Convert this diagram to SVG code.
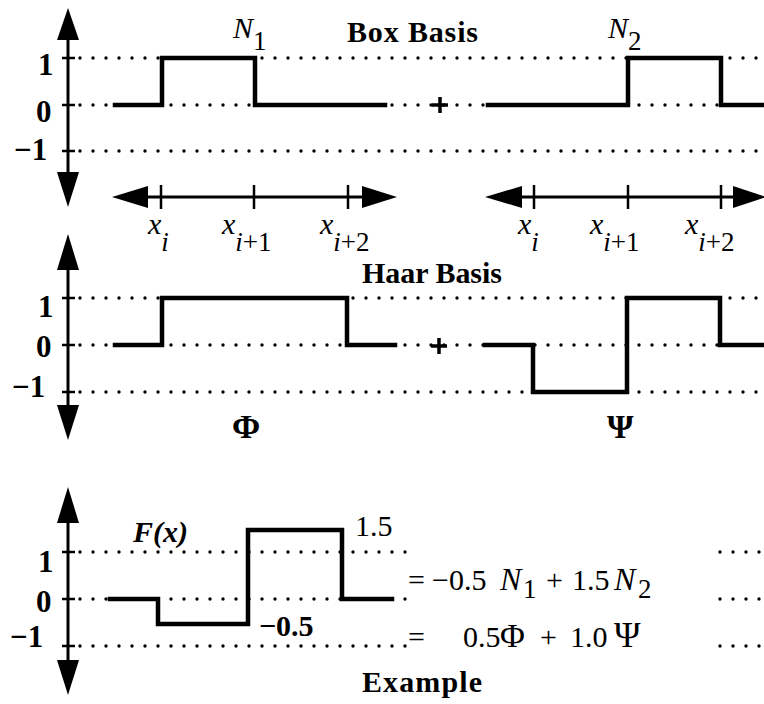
<svg xmlns="http://www.w3.org/2000/svg" width="764" height="704" viewBox="0 0 764 704">
<style>
.bg{fill:#fff}
.ax{stroke:#000;stroke-width:3;fill:none}
.tk{stroke:#000;stroke-width:2.5;fill:none}
.hd{fill:#000;stroke:none}
.dot{stroke:#000;stroke-width:3.4;stroke-linecap:round;stroke-dasharray:0 13;fill:none}
.fn{stroke:#000;stroke-width:4.5;fill:none;stroke-linejoin:miter;stroke-linecap:square}
.pl{stroke:#000;stroke-width:3.5;fill:none}
text{font-family:"Liberation Serif","Times New Roman",serif;fill:#000}
.b{font-weight:bold;font-size:31px}
.t{font-weight:bold;font-size:30px}
.i{font-style:italic;font-size:30px}
.s{font-size:27px;font-style:normal}
.si{font-size:27px;font-style:italic}
.r{font-size:30px}
.g{font-size:34px;font-weight:bold}
</style>
<rect class="bg" width="764" height="704"/>

<g id="box-basis">
  <g id="box-grid">
    <path class="dot" d="M80 58H764M80 105H764M80 151H764"/>
    <path class="tk" d="M62 58H75M62 105H75M62 151H75"/>
    <text class="b" x="38" y="75">1</text>
    <text class="b" x="36" y="122">0</text>
    <text class="b" x="14" y="160">−1</text>
  </g>
  <g id="box-yaxis">
    <path class="ax" d="M68 38V174"/>
    <polygon class="hd" points="68,8 57,40 79,40"/>
    <polygon class="hd" points="57,172 79,172 68,207"/>
  </g>
  <g id="N1">
    <path class="fn" d="M115 105H162V58H255V105H385"/>
    <text class="i" x="233" y="38">N<tspan class="s" dy="12">1</tspan></text>
  </g>
  <text class="t" x="347" y="42" textLength="131">Box Basis</text>
  <path id="plus1" class="pl" d="M432 105H448M440 97V113"/>
  <g id="N2">
    <path class="fn" d="M488 105H628V58H721V105H764"/>
    <text class="i" x="608" y="38">N<tspan class="s" dy="12">2</tspan></text>
  </g>
  <g id="xaxis-left">
    <path class="ax" d="M146 197H364"/>
    <polygon class="hd" points="112,197 148,186 148,208"/>
    <polygon class="hd" points="362,186 362,208 397,197"/>
    <path class="tk" d="M161 185V209M254 185V209M348 185V209"/>
    <text class="i" x="148" y="234">x<tspan class="si" dy="17">i</tspan></text>
    <text class="i" x="222" y="234">x<tspan class="si" dy="17">i</tspan><tspan class="s">+1</tspan></text>
    <text class="i" x="320" y="234">x<tspan class="si" dy="17">i</tspan><tspan class="s">+2</tspan></text>
  </g>
  <g id="xaxis-right">
    <path class="ax" d="M520 197H735"/>
    <polygon class="hd" points="485,197 522,186 522,208"/>
    <polygon class="hd" points="733,186 733,208 766,197"/>
    <path class="tk" d="M534 185V209M628 185V209M721 185V209"/>
    <text class="i" x="518" y="234">x<tspan class="si" dy="17">i</tspan></text>
    <text class="i" x="590" y="234">x<tspan class="si" dy="17">i</tspan><tspan class="s">+1</tspan></text>
    <text class="i" x="685" y="234">x<tspan class="si" dy="17">i</tspan><tspan class="s">+2</tspan></text>
  </g>
</g>

<g id="haar-basis">
  <g id="haar-grid">
    <path class="dot" d="M80 298H764M80 345H764M80 392H764"/>
    <path class="tk" d="M62 298H75M62 345H75M62 392H75"/>
    <text class="b" x="38" y="317">1</text>
    <text class="b" x="36" y="357">0</text>
    <text class="b" x="12" y="397">−1</text>
  </g>
  <g id="haar-yaxis">
    <path class="ax" d="M68 268V407"/>
    <polygon class="hd" points="68,234 57,270 79,270"/>
    <polygon class="hd" points="57,405 79,405 68,440"/>
  </g>
  <text class="t" x="362" y="283" textLength="140">Haar Basis</text>
  <g id="Phi">
    <path class="fn" d="M115 345H162V298H347V345H395"/>
    <text class="g" x="232" y="438">Φ</text>
  </g>
  <path id="plus2" class="pl" d="M431 346H447M439 338V354"/>
  <g id="Psi">
    <path class="fn" d="M485 345H533V392H627V298H720V345H764"/>
    <text class="g" x="607" y="438">Ψ</text>
  </g>
</g>

<g id="example">
  <g id="ex-grid">
    <path class="dot" d="M80 552H412M80 599H412M80 646H412M720 552H764M720 599H764M720 646H764"/>
    <path class="tk" d="M62 552H75M62 599H75M62 646H75"/>
    <text class="b" x="38" y="572">1</text>
    <text class="b" x="36" y="612">0</text>
    <text class="b" x="10" y="647">−1</text>
  </g>
  <g id="ex-yaxis">
    <path class="ax" d="M68 521V662"/>
    <polygon class="hd" points="68,487 57,523 79,523"/>
    <polygon class="hd" points="57,660 79,660 68,695"/>
  </g>
  <g id="Fx">
    <path class="fn" d="M110 599H158V624H248V530H342V599H392"/>
    <text x="133" y="542" style="font-size:30px;font-style:italic;font-weight:bold">F(x)</text>
    <text class="r" x="355" y="536">1.5</text>
    <text class="r" x="259" y="636" font-weight="bold">−0.5</text>
  </g>
  <g id="equations">
    <text class="r" y="590"><tspan x="408">=</tspan><tspan x="432">−0.5</tspan><tspan x="500" font-style="italic" style="font-size:32px">N</tspan><tspan x="523" dy="8" class="s">1</tspan><tspan x="546" dy="-8">+</tspan><tspan x="572">1.5</tspan><tspan x="614" font-style="italic" style="font-size:32px">N</tspan><tspan x="638" dy="8" class="s">2</tspan></text>
    <text class="r" y="647"><tspan x="408">=</tspan><tspan x="463">0.5</tspan><tspan x="500" style="font-size:34px">Φ</tspan><tspan x="540">+</tspan><tspan x="570">1.0</tspan><tspan x="614" style="font-size:36px">Ψ</tspan></text>
  </g>
  <text class="t" x="362" y="692" textLength="120">Example</text>
</g>
</svg>
